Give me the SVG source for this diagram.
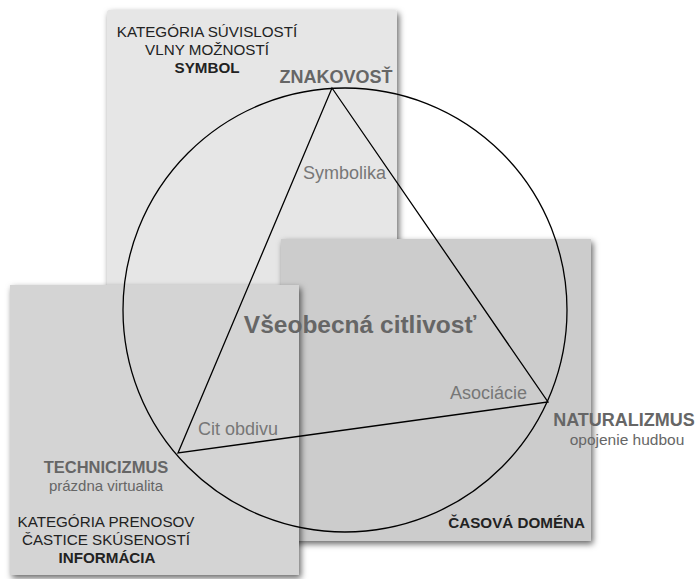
<svg xmlns="http://www.w3.org/2000/svg" width="696" height="579" viewBox="0 0 696 579">
<defs>
<filter id="sh" x="-10%" y="-10%" width="125%" height="125%">
<feDropShadow dx="2" dy="3" stdDeviation="3" flood-color="#000" flood-opacity="0.6"/>
</filter>
<style>
text{font-family:"Liberation Sans",Arial,sans-serif}
.cap{font-size:15.2px;fill:#222;text-anchor:middle}
.capb{font-size:15.2px;fill:#222;font-weight:bold;text-anchor:middle}
.lbl{font-size:18px;fill:#777}
.big{font-size:18px;fill:#666;font-weight:bold;text-anchor:middle}
.sub{font-size:15.5px;fill:#666;text-anchor:middle}
.ln{fill:none;stroke:#000;stroke-width:1.3}
</style>
</defs>
<rect width="696" height="579" fill="#fff"/>
<g id="kategoria-suvislosti">
<rect x="107" y="10" width="290" height="292" rx="2" fill="#e6e6e6" filter="url(#sh)"/>
<text class="cap" x="207" y="37">KATEGÓRIA SÚVISLOSTÍ</text>
<text class="cap" x="207" y="55">VLNY MOŽNOSTÍ</text>
<text class="capb" x="207" y="73">SYMBOL</text>
</g>
<g id="casova-domena">
<rect x="281" y="239" width="310" height="302" fill="#cccccc" filter="url(#sh)"/>
<text class="capb" x="585" y="528" style="text-anchor:end">ČASOVÁ DOMÉNA</text>
</g>
<g id="kategoria-prenosov">
<rect x="10" y="285" width="289" height="290" fill="#d4d4d4" filter="url(#sh)"/>
<text class="cap" x="106" y="527">KATEGÓRIA PRENOSOV</text>
<text class="cap" x="106" y="545">ČASTICE SKÚSENOSTÍ</text>
<text class="capb" x="107" y="563">INFORMÁCIA</text>
</g>
<g id="connectors">
<circle class="ln" cx="345" cy="310" r="222"/>
<polygon class="ln" points="332,88 548,402 178,453"/>
</g>
<g id="znakovost">
<text class="big" x="336" y="83">ZNAKOVOSŤ</text>
</g>
<g id="naturalizmus">
<text class="big" x="624" y="426">NATURALIZMUS</text>
<text class="sub" x="627" y="444.5">opojenie hudbou</text>
</g>
<g id="technicizmus">
<text class="big" x="106" y="473" style="font-size:16.5px">TECHNICIZMUS</text>
<text class="sub" x="106" y="491" style="font-size:15px">prázdna virtualita</text>
</g>
<g id="center">
<text x="360" y="333" style="font-size:24.5px;font-weight:bold;fill:#666;text-anchor:middle">Všeobecná citlivosť</text>
</g>
<g id="edge-labels">
<text class="lbl" x="303" y="179">Symbolika</text>
<text class="lbl" x="527" y="399" style="text-anchor:end">Asociácie</text>
<text class="lbl" x="198" y="435">Cit obdivu</text>
</g>
</svg>
